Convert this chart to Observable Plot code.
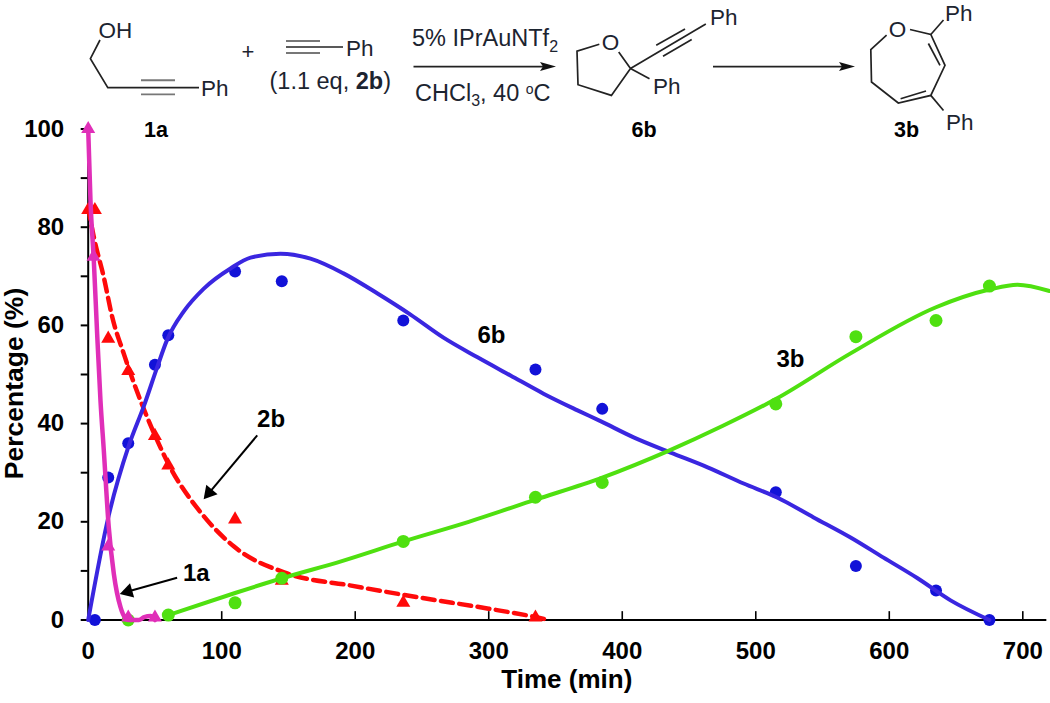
<!DOCTYPE html>
<html><head><meta charset="utf-8">
<script src="https://cdn.jsdelivr.net/npm/d3@7"></script>
<script src="https://cdn.jsdelivr.net/npm/@observablehq/plot@0.6"></script>
<style>html,body{margin:0;padding:0;background:#fff}svg{display:block}</style>
</head><body><div id="chart"></div>
<script>
const pts6bT=[5,15,30,50,60,110,145,236,335,385,515,575,635,675];
const pts6bV=[0,29,36,52,58,71,69,61,51,43,26,11,6,0];
const pts3bT=[30,60,110,145,236,335,385,515,575,635,675];
const pts3bV=[0,1,3.5,8.5,16,25,28,44,57.7,61,68];
const pts2bT=[0,5,15,30,50,60,110,145,236,335];
const pts2bV=[83.5,83.5,57.3,50.7,37.5,31.5,20.5,8,3.5,0.5];
const pts1aT=[0,4,15,30,50];
const pts1aV=[100,74,15,0.5,0.5];

const fit6bT=[0,15.4,30.4,41.6,51.7,59,72,86.6,106.6,121.6,144,166.5,191.2,216.7,241.4,266.1,291.6,316.3,341,366.5,383.7,408.5,436.2,463.9,490.9,516.4,543.3,571,595.7,621.2,645.9,675];
const fit6bV=[0,21.3,35.5,43.5,51.5,57,63,67.5,71.6,73.8,74.6,73.6,70.6,66.5,62.2,57.5,53.5,49.8,46.1,42.7,40.5,37.2,34.1,31.1,27.8,24.9,20.9,16.8,12.7,8.5,4,0];
const fit3bT=[60,110,145,190,236,285,335,385,435,475,515,571,635,675,696,720];
const fit3bV=[1,5.5,8.5,12,16,20,24.5,29,34.5,39.5,45,54.3,63.7,67.3,68.3,67];
const fit2bT=[0,4.2,11.7,18,26.7,35.4,50,61.6,84,109,149,197,250,300,335,345];
const fit2bV=[84,78,69.8,61.7,54.2,47.4,37.6,31,22,15,9.5,7,4.5,2.3,0.6,0];
const fit1aT=[0,1.7,4.2,6.7,9.2,11.7,15.4,19.2,24.2,28,30,38,42,46.7,50];
const fit1aV=[100,85.4,73.2,58.3,44.7,34.5,18.9,9.4,2.6,0.3,0,0,0.6,0.8,0];

const xTicks=[0,100,200,300,400,500,600,700];
const yTicks=[0,10,20,30,40,50,60,70,80,90,100];
const font="'Liberation Sans',Arial,sans-serif";
const C={a:"#e02fb8",b:"#ff0a0a",bl:"#3a26e0",bd:"#1212d8",g:"#4fe010"};
const tab=(t,v)=>t.map((d,i)=>({t:d,v:v[i]}));

const plot=Plot.plot({
  width:1050,height:703,marginLeft:87.7,marginRight:1,marginTop:128.5,marginBottom:83.5,
  style:{fontFamily:font,background:"#fff",overflow:"visible"},
  x:{domain:[0,720]},y:{domain:[0,100]},
  marks:[
    Plot.axisX({ticks:xTicks,tickSize:0,tickPadding:22,fontSize:24,fontWeight:"bold",label:null,fill:"#000"}),
    Plot.axisY({ticks:yTicks,tickSize:7,tickPadding:17,tickFormat:d=>d%20?"":d,fontSize:24,fontWeight:"bold",label:null,strokeWidth:2,fill:"#000",stroke:"#000"}),
    Plot.ruleX(xTicks.slice(1),{x:d=>d,y1:0,y2:1.7,stroke:"#000",strokeWidth:1.6}),
    Plot.ruleX([0],{y1:0,y2:100,stroke:"#000",strokeWidth:2}),
    Plot.ruleY([0],{x1:-5,x2:718,stroke:"#000",strokeWidth:2}),
    Plot.line(tab(fit2bT,fit2bV),{x:"t",y:"v",stroke:C.b,strokeWidth:4.5,strokeDasharray:"12,6.5",curve:"monotone-x"}),
    Plot.dot(tab(pts2bT,pts2bV),{x:"t",y:"v",symbol:"triangle",r:5.2,fill:C.b}),
    Plot.dot(tab(pts6bT,pts6bV),{x:"t",y:"v",r:6,fill:C.bd}),
    Plot.line(tab(fit6bT,fit6bV),{x:"t",y:"v",stroke:C.bl,strokeWidth:4,curve:"monotone-x"}),
    Plot.dot(tab(pts3bT,pts3bV),{x:"t",y:"v",r:6.5,fill:C.g}),
    Plot.line(tab(fit3bT,fit3bV),{x:"t",y:"v",stroke:C.g,strokeWidth:4,curve:"monotone-x"}),
    Plot.line(tab(fit1aT,fit1aV),{x:"t",y:"v",stroke:C.a,strokeWidth:4.5,curve:"monotone-x"}),
    Plot.dot(tab(pts1aT,pts1aV),{x:"t",y:"v",symbol:"triangle",r:5.2,fill:C.a}),
    Plot.link([{x1:126.6,y1:37.6,x2:89,y2:25.4},{x1:66.6,y1:8.6,x2:27,y2:5.6}],{x1:"x1",y1:"y1",x2:"x2",y2:"y2",stroke:"#000",strokeWidth:2}),
    Plot.dot([{x:90.6,y:25.9,a:220.3},{x:29.8,y:5.8,a:253.8}],{x:"x",y:"y",rotate:"a",symbol:"triangle",r:5.5,fill:"#000"}),
    Plot.text([{t:137,v:40.8,s:"2b"},{t:81,v:9.5,s:"1a"},{t:302,v:58,s:"6b"},{t:526,v:53,s:"3b"}],{x:"t",y:"v",text:"s",fontSize:24,fontWeight:"bold",fill:"#000"}),
    Plot.text(["Time (min)"],{frameAnchor:"bottom",dy:68,dx:-2,fontSize:26,fontWeight:"bold",fill:"#000"}),
    Plot.text(["Percentage (%)"],{frameAnchor:"left",textAnchor:"middle",rotate:-90,dx:-74,dy:9,fontSize:26.5,fontWeight:"bold",fill:"#000"})
  ]
});
document.getElementById("chart").append(plot);

// reaction scheme drawn above the axes
const g=d3.select(plot).append("g").attr("font-family",font).attr("fill","#1a1a1a");
const bond=(pts,c="#222",w=1.7)=>g.append("polyline").attr("points",pts.map(p=>p.join(",")).join(" ")).attr("fill","none").attr("stroke",c).attr("stroke-width",w);
const txt=(x,y,s,o={})=>g.append("text").attr("x",x).attr("y",y).attr("font-size",o.size||22.5).attr("font-weight",o.bold?"bold":"normal").attr("text-anchor",o.anchor||"start").attr("fill",o.fill||"#1c2430").text(s);
const head=(x,y)=>g.append("path").attr("d",`M${x},${y}l-16,-4.5l3,4.5l-3,4.5z`).attr("fill","#111");
const cond=23.5, lab=21.5;
// 1a
txt(98.5,38,"OH");
bond([[100,40],[90.4,58.6],[107.8,87.7],[199,87.7]]);
bond([[141,80.3],[175,80.3]],"#777",1.9);bond([[141,94.4],[175,94.4]],"#777",1.9);
txt(201,95.5,"Ph");
txt(156,137,"1a",{bold:true,anchor:"middle",size:lab,fill:"#000"});
txt(248,59,"+",{anchor:"middle",size:22});
// 2b
bond([[286,41],[320,41]],"#777",1.9);bond([[286,47],[343,47]]);bond([[286,53],[320,53]],"#777",1.9);
txt(346,56,"Ph");
const t2=txt(269.5,88.7,"(1.1 eq, ",{size:cond});
t2.append("tspan").attr("font-weight","bold").text("2b");t2.append("tspan").text(")");
// conditions
const t3=txt(412,46,"5% IPrAuNTf",{size:cond});t3.append("tspan").attr("font-size",16).attr("dy",6).text("2");
bond([[413.5,66.6],[548,66.6]]);head(556,66.6);
const t4=txt(415,101,"CHCl",{size:cond});t4.append("tspan").attr("font-size",16).attr("dy",5).text("3");
t4.append("tspan").attr("dy",-5).text(", 40 ");t4.append("tspan").attr("font-size",14).attr("dy",-7).text("o");t4.append("tspan").attr("dy",7).text("C");
// 6b
txt(610.4,49.5,"O",{anchor:"middle"});
bond([[599.3,44.2],[577,51.2],[578,84.7],[611.4,95.4],[630.5,68.6],[618.7,51.9]]);
bond([[630.5,68.6],[705.8,24.1]]);bond([[656.2,45.2],[685,29.1]]);bond([[663,56.2],[691.7,39.5]]);
bond([[630.5,68.6],[649.5,78.7]]);
txt(710,25,"Ph");txt(653,93.7,"Ph");
txt(644,137,"6b",{bold:true,anchor:"middle",size:lab,fill:"#000"});
bond([[713,66.6],[847,66.6]]);head(855,66.6);
// 3b
txt(897.6,36.5,"O",{anchor:"middle"});
bond([[886.6,35.2],[870.8,49.5],[871.5,82],[898.3,103],[930.8,95.4],[945,65.3],[930.8,34.5],[910,29.5]]);
bond([[900.6,98.8],[926,91]]);bond([[928.4,43.5],[940,65.3]]);
bond([[930.8,34.5],[943.5,20]]);bond([[930.8,95.4],[943.5,110.5]]);
txt(945,20.5,"Ph");txt(946,130,"Ph");
txt(906.6,137,"3b",{bold:true,anchor:"middle",size:lab,fill:"#000"});
</script></body></html>
